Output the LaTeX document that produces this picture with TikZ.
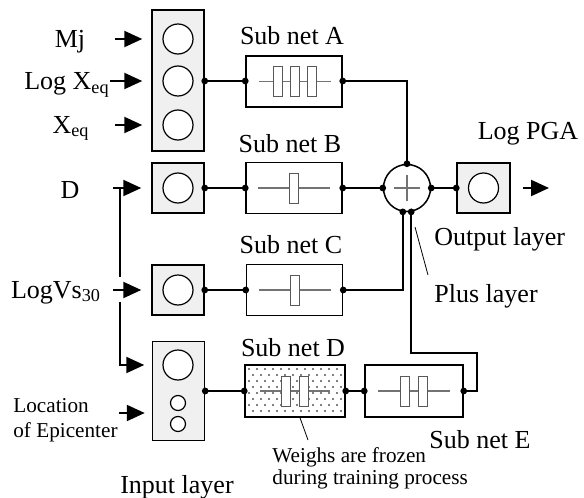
\documentclass[tikz,border=0pt]{standalone}
\usepackage{fontspec}
\setmainfont{Liberation Serif}
\usetikzlibrary{arrows.meta}

\tikzset{
  layer/.style={draw, fill=black!6, line width=0.75pt, inner sep=0pt, minimum width=26pt},
  unit/.style={draw, circle, fill=white, line width=0.6pt, inner sep=0pt, minimum size=15pt},
  subnet/.style={draw, line width=0.75pt, inner sep=0pt, minimum width=48pt, minimum height=25.5pt},
  wgt/.style={draw=black!65, fill=white, line width=0.5pt, inner sep=0pt, minimum width=4.5pt, minimum height=15pt},
  axis/.style={draw=black!55, line width=0.6pt},
  tap/.style={circle, fill, inner sep=0pt, minimum size=3.4pt},
  wire/.style={line width=0.75pt},
  feed/.style={-{Triangle[length=9pt,width=8pt]}, line width=1.1pt},
  pointer/.style={line width=0.4pt},
  lbl/.style={inner sep=0pt, font=\fontsize{13}{15}\selectfont},
  note/.style={inner sep=0pt, align=left, font=\fontsize{10.6}{12.5}\selectfont},
}

\begin{document}
\begin{tikzpicture}[x=0.5pt, y=-0.5pt]
  \useasboundingbox (0,0) rectangle (584,498);

  % input layer
  \node[layer, minimum height=70.5pt] (in1) at (178,80.5) {};
  \node[unit] (mj) at (178,39) {};
  \node[unit] (lx) at (178,81) {};
  \node[unit] (xq) at (178,125) {};
  \node[layer, minimum height=25pt] (in2) at (178,188) {};
  \node[unit] (dd) at (in2) {};
  \node[layer, minimum height=25pt] (in3) at (178,290) {};
  \node[unit] (vs) at (in3) {};
  \node[layer, minimum height=49.5pt] (in4) at (178.5,391) {};
  \node[unit] (ep) at (178,365) {};
  \node[unit, minimum size=7.5pt] (lat) at (178,403) {};
  \node[unit, minimum size=7.5pt] (lon) at (178,424) {};

  \node[lbl, anchor=base] (tmj) at (70,47) {Mj};
  \node[lbl, anchor=base] (tlx) at (67,90) {Log X\textsubscript{eq}};
  \node[lbl, anchor=base] (txq) at (71,133) {X\textsubscript{eq}};
  \node[lbl, anchor=base] (tdd) at (70,198) {D};
  \node[lbl, anchor=base] (tvs) at (56,298) {LogVs\textsubscript{30}};
  \node[note, anchor=base west] (tep) at (13,437) {Location\\of Epicenter};
  \node[lbl, anchor=base] (tin) at (177,493) {Input layer};

  \coordinate (smj) at (115,39);
  \coordinate (slx) at (110,81);
  \coordinate (sxq) at (115,125);
  \coordinate (sdd) at (113,188);
  \coordinate (svs) at (113,290);
  \coordinate (jdd) at (120,188);
  \coordinate (jvs) at (120,290);
  \coordinate (sep) at (119,413);

  \draw[feed, shorten >=4.5pt] (smj) -- (smj -| in1.west);
  \draw[feed, shorten >=4.5pt] (slx) -- (slx -| in1.west);
  \draw[feed, shorten >=4.5pt] (sxq) -- (sxq -| in1.west);
  \draw[feed, shorten >=5pt] (sdd) -- (sdd -| in2.west);
  \draw[feed, shorten >=5pt] (svs) -- (svs -| in3.west);
  \draw[line width=1.1pt] (jdd) -- ([yshift=6.5pt]jvs);
  \draw[feed, shorten >=3.75pt] ([yshift=-6pt]jvs) |- (ep -| in4.west);
  \draw[feed, shorten >=3.5pt] (sep) -- (sep -| in4.west);

  % sub nets
  \node[subnet] (subA) at (294,81.5) {};
  \node[subnet] (subB) at (294,188) {};
  \node[subnet] (subC) at (294.5,290) {};
  \node[subnet, minimum width=50pt, minimum height=26pt] (subD) at (295,391) {};
  \node[subnet, minimum width=49pt, minimum height=26pt] (subE) at (414,391) {};

  \begin{scope}
    \clip (subD.south west) rectangle (subD.north east);
    \foreach \r in {0,...,8} {
      \foreach \c in {0,...,12} {
        \fill ({249+8*\c+4*mod(\r,2)},{369+6*\r}) circle (0.38pt);
      }
    }
  \end{scope}

  \draw[axis] ([xshift=-17.5pt]subA.center) -- ([xshift=18.5pt]subA.center);
  \node[wgt] (wa1) at ([xshift=-8.25pt]subA.center) {};
  \node[wgt] (wa2) at ([xshift=0.25pt]subA.center) {};
  \node[wgt] (wa3) at ([xshift=8.75pt]subA.center) {};
  \draw[axis] ([xshift=-18pt]subB.center) -- ([xshift=18pt]subB.center);
  \node[wgt] (wb1) at (subB.center) {};
  \draw[axis] ([xshift=-18pt]subC.center) -- ([xshift=18pt]subC.center);
  \node[wgt] (wc1) at (subC.center) {};
  \draw[axis] ([xshift=-17.5pt]subD.center) -- ([xshift=17.5pt]subD.center);
  \node[wgt] (wd1) at ([xshift=-4.5pt]subD.center) {};
  \node[wgt] (wd2) at ([xshift=4.5pt]subD.center) {};
  \draw[axis] ([xshift=-18pt]subE.center) -- ([xshift=18pt]subE.center);
  \node[wgt] (we1) at ([xshift=-4.75pt]subE.center) {};
  \node[wgt] (we2) at ([xshift=4.25pt]subE.center) {};

  \node[lbl, anchor=base] (tsa) at (292,45) {Sub net A};
  \node[lbl, anchor=base] (tsb) at (290,152) {Sub net B};
  \node[lbl, anchor=base] (tsc) at (291,253) {Sub net C};
  \node[lbl, anchor=base] (tsd) at (293,356) {Sub net D};
  \node[lbl, anchor=base] (tse) at (480,448) {Sub net E};
  \node[note, anchor=base west, font=\fontsize{10.6}{9.5}\selectfont] (tfz) at (272,484) {Weighs are frozen\\during training process};

  % plus and output layer
  \node[draw, circle, fill=white, line width=0.75pt, minimum size=23.5pt, inner sep=0pt] (plus) at (407,188) {};
  \draw[axis] ([xshift=-6.5pt]plus.center) -- ([xshift=6.5pt]plus.center);
  \draw[axis] ([yshift=-6.5pt]plus.center) -- ([yshift=6.5pt]plus.center);
  \node[layer, minimum width=26.5pt, minimum height=25pt] (out) at (483.5,188) {};
  \node[unit] (pga) at (out) {};
  \coordinate (epga) at (549,188);
  \draw[feed] ([xshift=6pt]out.east) -- (epga);

  \node[lbl, anchor=base] (tpga) at (528,139) {Log PGA};
  \node[lbl, anchor=base west] (tout) at (434,245) {Output layer};
  \node[lbl, anchor=base west] (tplus) at (434,302) {Plus layer};

  % wires
  \draw[wire] (in1.east |- lx) node[tap]{} -- (subA.west |- lx) node[tap]{};
  \draw[wire] (in2.east) node[tap]{} -- (subB.west) node[tap]{};
  \draw[wire] (in3.east) node[tap]{} -- (subC.west) node[tap]{};
  \draw[wire] (in4.east) node[tap]{} -- (subD.west) node[tap]{};
  \draw[wire] (subD.east) node[tap]{} -- (subE.west) node[tap]{};

  \coordinate (ret) at (477,353);
  \draw[wire] (subA.east |- lx) node[tap]{} -| (plus.north) node[tap]{};
  \draw[wire] (subB.east) node[tap]{} -- (plus.west) node[tap]{};
  \draw[wire] (subC.east) node[tap]{} -| (plus.-100) node[tap]{};
  \draw[wire] (subE.east) node[tap]{} -| (ret) -| (plus.-80) node[tap]{};
  \draw[wire] (plus.east) node[tap]{} -- (out.west) node[tap]{};

  % pointers
  \coordinate (pp1) at (415,227);
  \coordinate (pp2) at (428,275);
  \draw[pointer] (pp1) -- (pp2);
  \coordinate (fp2) at (308,440);
  \draw[pointer] ([xshift=2.5pt]subD.south) -- (fp2);
\end{tikzpicture}
\end{document}
